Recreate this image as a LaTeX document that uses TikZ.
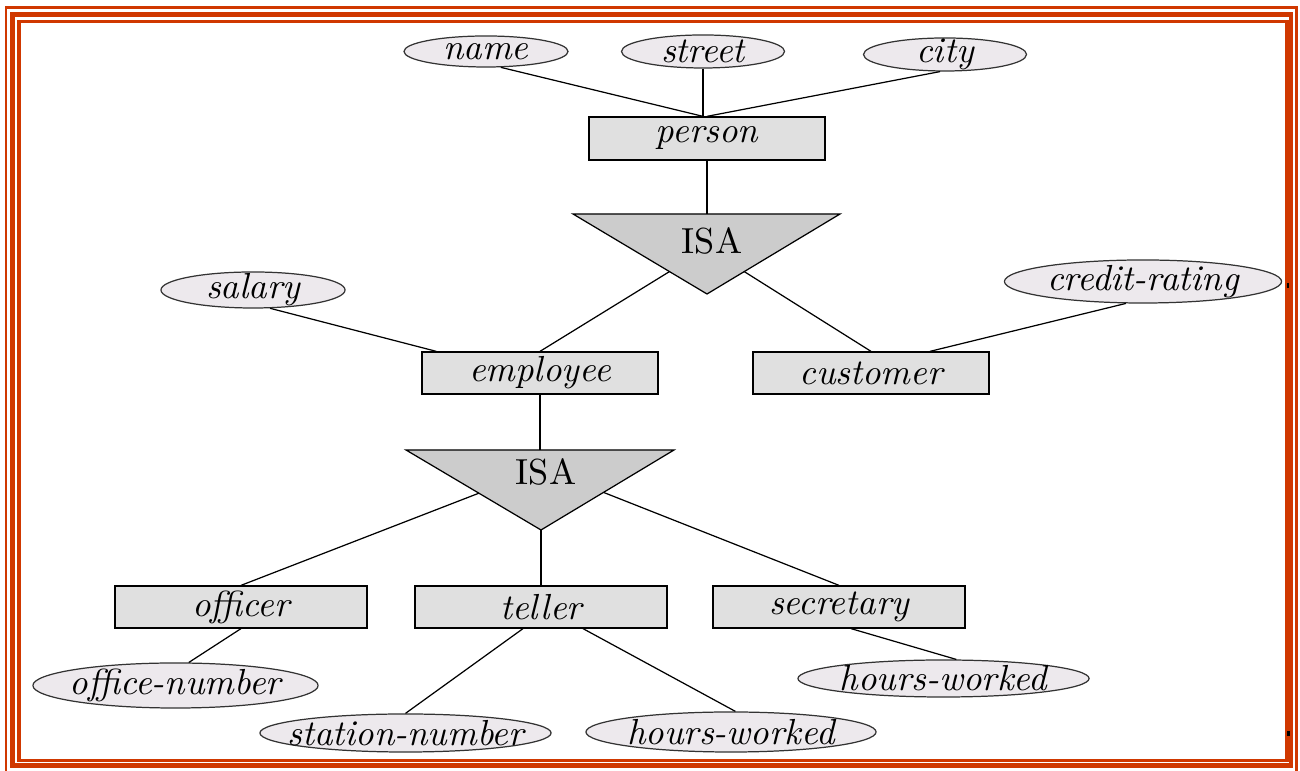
\documentclass[tikz,border=0pt]{standalone}
\usetikzlibrary{shapes.geometric}
\usetikzlibrary{calc}

\definecolor{framered}{RGB}{208,56,0}
\definecolor{entfill}{RGB}{224,224,224}
\definecolor{attrfill}{RGB}{237,233,237}
\definecolor{isafill}{RGB}{204,204,204}

\tikzset{
  entity/.style={draw, fill=entfill, inner sep=0pt, minimum width=2.52cm, minimum height=0.42cm, font=\fontsize{10.3}{12}\selectfont\itshape},
  attrib/.style={ellipse, draw=black!80, fill=attrfill, inner sep=-2cm, font=\fontsize{10.3}{12}\selectfont\itshape},
  isatri/.style={draw, fill=isafill},
}

\begin{document}
\begin{tikzpicture}[x=0.01cm, y=-0.01cm, line width=0.35pt]
      \useasboundingbox (0,0) rectangle (1300,771);
      \clip (0,0) rectangle (1300,771);

      % frame
      \draw[framered, line width=0.6pt] (6,7.5) rectangle (1296.5,773);
      \draw[framered, line width=1.4pt] (12.5,14.5) rectangle (1291,765.5);
      \draw[framered, line width=1pt] (19,21.5) rectangle (1287,760.5);
      \fill (1286.5,283) rectangle (1289,288);
      \fill (1287,731) rectangle (1289.5,736);

      % entities
      \node[entity, minimum width=2.36cm, minimum height=0.43cm] (person) at (707,138.5) {person};
      \node[entity, minimum width=2.36cm] (employee) at (540,373) {employee};
      \node[entity, minimum width=2.36cm] (customer) at (871,373) {customer};
      \node[entity] (officer) at (241,607) {officer};
      \node[entity] (teller) at (541,607) {teller};
      \node[entity] (secretary) at (839,607) {secretary};

      % attributes
      \node[attrib, minimum width=1.64cm, minimum height=0.31cm] (name) at (486,51.5) {name};
      \node[attrib, minimum width=1.63cm, minimum height=0.33cm] (street) at (703,51.5) {street};
      \node[attrib, minimum width=1.63cm, minimum height=0.33cm] (city) at (945,54.5) {city};
      \node[attrib, minimum width=1.84cm, minimum height=0.36cm] (salary) at (253,290) {salary};
      \node[attrib, minimum width=2.77cm, minimum height=0.43cm] (credit) at (1143,281.5) {credit-rating};
      \node[attrib, minimum width=2.85cm, minimum height=0.45cm] (office) at (175.5,685.5) {office-number};
      \node[attrib, minimum width=2.91cm, minimum height=0.38cm] (station) at (405.5,733) {station-number};
      \node[attrib, minimum width=2.90cm, minimum height=0.40cm] (hoursT) at (731,732) {hours-worked};
      \node[attrib, minimum width=2.91cm, minimum height=0.37cm] (hoursS) at (943.5,678.5) {hours-worked};

      % ISA triangles
      \coordinate (isaA-l) at (573,214);
      \coordinate (isaA-r) at (840,214);
      \coordinate (isaA-b) at (707,294);
      \draw[isatri] (isaA-l) -- (isaA-r) -- (isaA-b) -- cycle;
      \node[font=\fontsize{10.3}{12}\selectfont] (isaA) at (712,241) {ISA};
      \coordinate (isaA-top) at (707,214);

      \coordinate (isaB-l) at (406,450);
      \coordinate (isaB-r) at (674,450);
      \coordinate (isaB-b) at (541,530);
      \draw[isatri] (isaB-l) -- (isaB-r) -- (isaB-b) -- cycle;
      \node[font=\fontsize{10.3}{12}\selectfont] (isaB) at (546,472) {ISA};
      \coordinate (isaB-top) at (541,450);

      % connectors
      \draw (name.-47) -- ($(person.north)+(-4,0)$);
      \draw (street.south) -- (street.south |- person.north);
      \draw (city.-106) -- (person.north);
      \draw (person.south) -- (isaA-top);
      \draw ($(isaA-l)!0.72!(isaA-b)$) -- (employee.north);
      \draw ($(isaA-r)!0.72!(isaA-b)$) -- (customer.north);
      \draw (salary.-47) -- ($(employee.north west)+(15,0)$);
      \draw (credit.-128) -- ($(customer.north)+(59,0)$);
      \draw (employee.south) -- (employee.south |- isaB-top);
      \draw ($(isaB-l)!0.54!(isaB-b)$) -- (officer.north);
      \draw (isaB-b) -- (teller.north);
      \draw ($(isaB-r)!0.53!(isaB-b)$) -- (secretary.north);
      \draw (officer.south) -- (office.60);
      \draw ($(teller.south)+(-18,0)$) -- (station.north);
      \draw ($(teller.south)+(42,0)$) -- (hoursT.78);
      \draw ($(secretary.south)+(12,0)$) -- (hoursS.56);
    \end{tikzpicture}
\end{document}
